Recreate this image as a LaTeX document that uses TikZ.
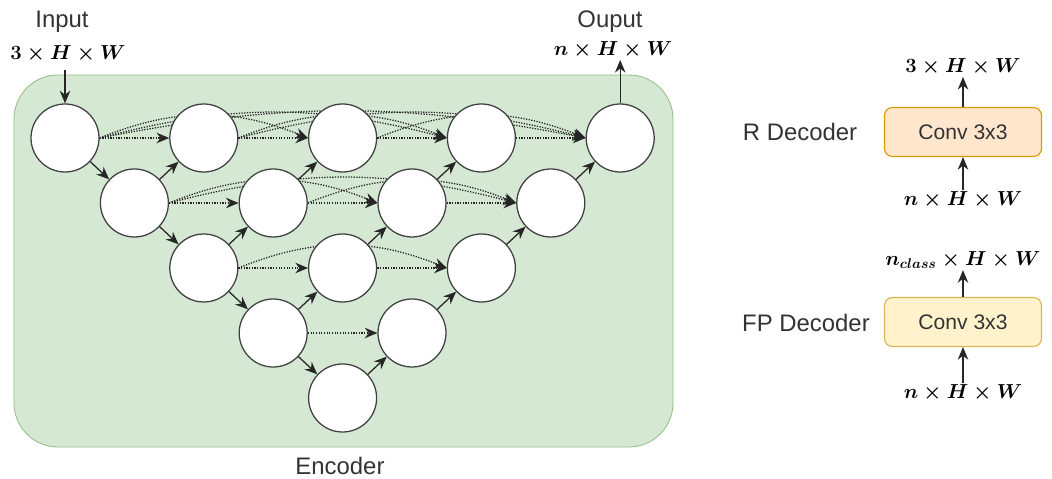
\documentclass[tikz,border=0pt]{standalone}
\usepackage{fontspec}
\setsansfont{Liberation Sans}
\usepackage{amsmath}
\usetikzlibrary{arrows.meta}
\definecolor{encfill}{RGB}{213,232,212}
\definecolor{encdraw}{RGB}{150,190,130}
\definecolor{rfill}{RGB}{255,230,204}
\definecolor{rdraw}{RGB}{215,155,0}
\definecolor{ffill}{RGB}{255,242,204}
\definecolor{fdraw}{RGB}{214,182,86}
\pgfdeclarelayer{bg}
\pgfdeclarelayer{edges}
\pgfsetlayers{bg,edges,main}

\begin{document}
\begin{tikzpicture}[x=0.25mm, y=0.25mm,
      >={Stealth[length=9pt,width=7.5pt]}, %Pfeilspitzen
      unit/.style={circle, draw=black!75, fill=white, line width=0.9pt, minimum size=17mm, inner sep=0pt},
      link/.style={->, draw=black!85, line width=0.9pt},
      skipline/.style={link, densely dotted},
      txt/.style={font=\sffamily\fontsize{17}{20}\selectfont, text=black!80},
      dimlbl/.style={font=\fontsize{14.5}{17}\selectfont\boldmath, inner sep=1pt},
      conv/.style={rounded corners=2mm, minimum width=39.25mm, minimum height=12.25mm, line width=0.8pt,
        font=\sffamily\fontsize{15}{18}\selectfont, text=black!80}]
      \useasboundingbox (0,0) rectangle (1052,479);
      % Encoder-Kasten
      \begin{pgfonlayer}{bg}
        \node[fill=encfill, draw=encdraw, rounded corners=11mm, minimum width=164.75mm, minimum height=93mm, line width=0.6pt] (enc) at (343.5,218) {};
      \end{pgfonlayer}
      \node[txt] (enclbl) at (340,13) {Encoder};
      % Knoten
      \foreach \i in {0,...,4} {
        \pgfmathtruncatemacro\jmax{4-\i}
        \foreach \j in {0,...,\jmax}
          \node[unit] (x\i\j) at ({65+69.4*(\i+2*\j)},{341-65*\i}) {};
      }
      % Kanten
      \begin{pgfonlayer}{edges}
        % abwaerts
        \foreach \i [evaluate=\i as \k using int(\i+1)] in {0,...,3}
          \draw[link] (x\i0) -- (x\k0);
        % aufwaerts
        \foreach \i in {1,...,4} {
          \pgfmathtruncatemacro\jmax{4-\i}
          \pgfmathtruncatemacro\h{\i-1}
          \foreach \j [evaluate=\j as \k using int(\j+1)] in {0,...,\jmax}
            \draw[link] (x\i\j) -- (x\h\k);
        }
        % waagrecht
        \foreach \i in {0,...,3} {
          \pgfmathtruncatemacro\jmax{3-\i}
          \foreach \j [evaluate=\j as \k using int(\j+1)] in {0,...,\jmax}
            \draw[skipline] (x\i\j) -- (x\i\k);
        }
        % dichte Verbindungen
        \foreach \i in {0,...,2} {
          \pgfmathtruncatemacro\jmax{2-\i}
          \foreach \j in {0,...,\jmax} {
            \pgfmathtruncatemacro\kmin{\j+2}
            \pgfmathtruncatemacro\kmax{4-\i}
            \foreach \k in {\kmin,...,\kmax} {
              \pgfmathsetmacro\ang{44/(\k-\j)}
              \pgfmathsetmacro\bng{180-\ang}
              \draw[skipline] (x\i\j.east) to[out=\ang,in=\bng] (x\i\k.west);
            }
          }
        }
      \end{pgfonlayer}
      % Ein- und Ausgabe
      \node[txt] (inlbl) at (62,457) {Input};
      \node[dimlbl] (insz) at (68,425) {$3\times H\times W$};
      \coordinate (inarr) at (65,409);
      \draw[link] (inarr) -- (x00);
      \node[txt] (outlbl) at (610,457) {Ouput};
      \node[dimlbl] (outsz) at (613,429) {$n\times H\times W$};
      \draw[link] (x04) -- (outsz.south -| x04);
      % R Decoder
      \node[conv, fill=rfill, draw=rdraw] (rconv) at (963,347) {Conv 3x3};
      \node[txt] (rlbl) at (800,347) {R Decoder};
      \node[dimlbl] (rout) at (963,412) {$3\times H\times W$};
      \node[dimlbl] (rin) at (963,279) {$n\times H\times W$};
      \draw[link] (rconv) -- (rout);
      \draw[link] (rin) -- (rconv);
      % FP Decoder
      \node[conv, fill=ffill, draw=fdraw] (fconv) at (963,157) {Conv 3x3};
      \node[txt] (flbl) at (806,156) {FP Decoder};
      \node[dimlbl] (fout) at (963,219) {$n_{class}\times H\times W$};
      \node[dimlbl] (fin) at (963,86) {$n\times H\times W$};
      \draw[link] (fconv) -- (fout);
      \draw[link] (fin) -- (fconv);
\end{tikzpicture}
\end{document}
